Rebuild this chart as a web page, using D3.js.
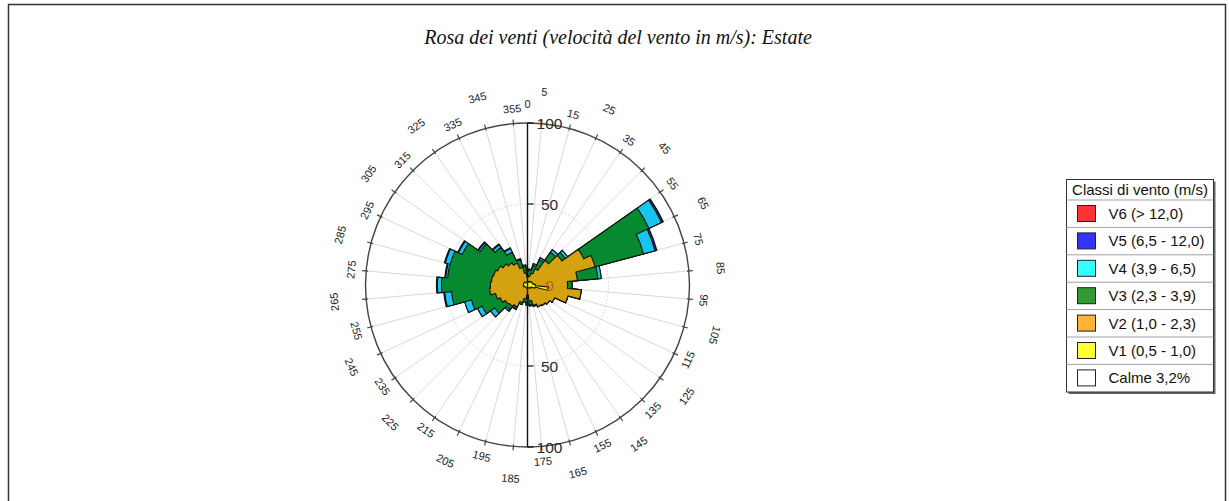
<!DOCTYPE html>
<html><head><meta charset="utf-8">
<script src="https://cdn.jsdelivr.net/npm/d3@7"></script>
<style>body{margin:0;background:#fff;overflow:hidden} svg{display:block}</style>
</head><body>
<svg id="c" width="1229" height="501"></svg>
<script>
// ---- data ----
const directions = d3.range(0, 360, 10); // sector centres (deg)
const V1 = [1.9,1.9,1.9,2.5,2.5,3.1,3.1,3.1,3.7,4.9,13.0,4.9,3.1,2.5,2.5,1.9,1.9,1.9,1.9,1.9,1.9,1.9,1.9,1.9,1.9,2.5,2.5,2.5,2.5,2.5,2.5,2.5,1.9,1.9,1.9,1.9];
const V2 = [3.1,3.7,5.6,8.6,16.0,22.8,35.2,40.1,27.2,19.8,20.3,21.0,15.4,14.2,13.0,12.9,11.1,8.0,4.3,6.8,9.3,13.0,14.2,14.8,16.7,17.9,21.0,20.4,19.8,19.1,17.9,16.0,14.8,13.0,9.3,5.6];
const V3 = [3.7,3.7,4.9,6.2,6.2,2.5,44.4,30.9,12.7,2.8,0,0,0,0,0,0,0.6,2.5,4.9,1.9,1.2,1.2,2.5,8.0,12.3,15.4,23.5,30.2,27.2,27.8,24.1,17.3,11.7,7.4,4.9,4.3];
const V4 = [0.6,0.6,1.2,1.2,1.9,1.9,8.6,7.4,2.1,0,0,0,0,0,0,0,0,0.6,1.2,0,0,0.6,1.2,3.1,3.1,4.3,4.3,2.5,1.2,3.1,2.5,1.2,1.9,2.5,0.6,0.6];
const V5 = [0,0,0,0,0,0,1.2,1.2,0,0,0,0,0,0,0,0,0,0,0,0,0,0,0,0,0,0,0.6,0.6,0.6,0.6,0.6,0.6,0.6,0.6,0,0];
const V6 = [0,0,0,0,0,0,0,0,0,0,0,0,0,0,0,0,0,0,0,0,0,0,0,0,0,0,0,0,0,0,0,0,0,0,0,0];
const seriesNames = ["V1 (0,5 - 1,0)","V2 (1,0 - 2,3)","V3 (2,3 - 3,9)","V4 (3,9 - 6,5)","V5 (6,5 - 12,0)","V6 (> 12,0)"];
const calmLabel = "Calme 3,2%";
const legendTitle = "Classi di vento (m/s)";
const chartTitle = "Rosa dei venti (velocità del vento in m/s): Estate";
const radialTicks = [0, 50, 100];
const dirTickLabels = d3.range(5, 360, 10);

// ---- styles ----
const fillColors = ["#f2f200","#d4a20f","#07892f","#17c6ef","#23239a","#e02020"];
const legendColors = ["#ffff33","#ffb233","#339933","#33ffff","#3333ff","#ff3333"];

const svg = d3.select("#c");
// outer frame
svg.append("rect").attr("x",8.5).attr("y",4.5).attr("width",1217).attr("height",520)
  .attr("fill","none").attr("stroke","#333").attr("stroke-width",1.5);

svg.append("text").attr("x",618).attr("y",44).attr("text-anchor","middle")
  .attr("font-family","Liberation Serif").attr("font-style","italic").attr("font-size",20)
  .attr("fill","#111").text(chartTitle);

const cx = 527.5, cy = 285, R = 162;
const r = d3.scaleLinear().domain([0,100]).range([0,R]);
const ang = d3.scaleLinear().domain([0,360]).range([0, 2*Math.PI]);
const g = svg.append("g").attr("transform",`translate(${cx},${cy})`);

// grid spokes
g.selectAll("line.spoke").data(dirTickLabels).join("line")
  .attr("x1",0).attr("y1",0)
  .attr("x2",d=>R*Math.sin(ang(d))).attr("y2",d=>-R*Math.cos(ang(d)))
  .attr("stroke","#d9d9d9").attr("stroke-width",1);
// dotted 50 circle
g.append("circle").attr("r",r(50)).attr("fill","none").attr("stroke","#cfcfcf")
  .attr("stroke-dasharray","1.5,2").attr("stroke-width",1);

// stacked layers
const layers = [V1,V2,V3,V4,V5,V6];
const cum = [];
layers.forEach((arr,k)=>{
  cum.push(arr.map((v,i)=> v + (k? cum[k-1][i] : 0)));
});
function layerPath(c){
  const p = d3.path();
  directions.forEach((d,i)=>{
    const a0 = ang(d-5) - Math.PI/2, a1 = ang(d+5) - Math.PI/2;
    const rr = r(c[i]);
    if (i===0) p.moveTo(rr*Math.cos(a0), rr*Math.sin(a0));
    p.arc(0,0,rr,a0,a1,false);
  });
  p.closePath();
  return p.toString();
}
for (let k = layers.length-1; k>=0; k--){
  if (d3.max(layers[k]) <= 0) continue;
  g.append("path").attr("d",layerPath(cum[k])).attr("fill",fillColors[k])
    .attr("stroke","#111").attr("stroke-width",1.1).attr("stroke-linejoin","miter");
}

// outer circle + ticks
g.append("circle").attr("r",R).attr("fill","none").attr("stroke","#444").attr("stroke-width",1.4);
g.selectAll("line.tick").data(dirTickLabels).join("line")
  .attr("x1",d=>(R-2)*Math.sin(ang(d))).attr("y1",d=>-(R-2)*Math.cos(ang(d)))
  .attr("x2",d=>(R+4)*Math.sin(ang(d))).attr("y2",d=>-(R+4)*Math.cos(ang(d)))
  .attr("stroke","#444").attr("stroke-width",1.2);

// direction labels
function rot(a){ if (a>110 && a<260) return a-180; if (a>=260) return a-360; return a; }
const dirLabels = [0].concat(dirTickLabels);
g.selectAll("text.dir").data(dirLabels).join("text")
  .attr("font-family","Liberation Sans").attr("font-size",11).attr("fill","#1a1a2a")
  .attr("text-anchor","middle").attr("dominant-baseline","central")
  .attr("transform",d=>{
    const rl = d===0 ? 181 : (((d-5)/10)%2===0 ? 194 : 177);
    const x = rl*Math.sin(ang(d)), y = -rl*Math.cos(ang(d));
    return `translate(${x},${y}) rotate(${d===0?0:rot(d)})`;
  })
  .text(d=>d);

// vertical radial axis
g.append("line").attr("x1",0).attr("x2",0).attr("y1",-R).attr("y2",R)
  .attr("stroke","#111").attr("stroke-width",1.4);
const axisTicks = radialTicks.flatMap(v => v===0 ? [{v,s:0}] : [{v,s:-1},{v,s:1}]);
g.selectAll("line.rt").data(axisTicks.filter(d=>d.v>0)).join("line")
  .attr("x1",0).attr("x2",6).attr("y1",d=>d.s*r(d.v)).attr("y2",d=>d.s*r(d.v))
  .attr("stroke","#111").attr("stroke-width",1.2);
g.selectAll("text.rt").data(axisTicks).join("text")
  .attr("x",22).attr("y",d=>d.s*r(d.v)).attr("dominant-baseline","central")
  .attr("text-anchor","middle").attr("font-family","Liberation Sans").attr("font-size",15.5)
  .attr("fill",d=>d.v===0?"#c0601a":"#2a2a2a").text(d=>d.v);

// legend
const lx = 1066.5, ly = 179.5, lw = 147, lh = 212.5, headH = 20.5, rowH = 27.4;
svg.append("rect").attr("x",lx+2).attr("y",ly+2).attr("width",lw).attr("height",lh).attr("fill","#666");
svg.append("rect").attr("x",lx).attr("y",ly).attr("width",lw).attr("height",lh)
  .attr("fill","#fff").attr("stroke","#333").attr("stroke-width",1);
svg.append("text").attr("x",lx+lw/2).attr("y",ly+15).attr("text-anchor","middle")
  .attr("font-family","Liberation Sans").attr("font-size",15).attr("fill","#111").text(legendTitle);
const legendItems = seriesNames.map((n,i)=>({name:n,color:legendColors[i]})).reverse()
  .concat([{name:calmLabel,color:"#ffffff"}]);
const lg = svg.append("g");
legendItems.forEach((it,i)=>{
  const top = ly + headH + i*rowH;
  lg.append("line").attr("x1",lx).attr("x2",lx+lw).attr("y1",top).attr("y2",top)
    .attr("stroke","#a0a0a0").attr("stroke-width",1);
  lg.append("rect").attr("x",lx+11).attr("y",top+5.5).attr("width",18).attr("height",16)
    .attr("fill",it.color).attr("stroke","#222").attr("stroke-width",1);
  lg.append("text").attr("x",lx+42).attr("y",top+19).attr("font-family","Liberation Sans")
    .attr("font-size",15).attr("fill","#111").text(it.name);
});
</script>
</body></html>
